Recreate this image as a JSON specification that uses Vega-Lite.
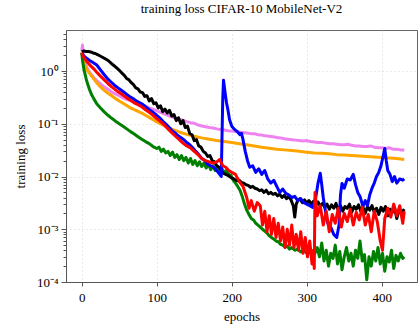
{
"$schema":"https://vega.github.io/schema/vega-lite/v6.json",
"width":351,"height":252,
"autosize":{"type":"none"},
"padding":{"left":66,"top":30,"right":1,"bottom":47},
"background":"white",
"title":{"text":"training loss CIFAR-10 MobileNet-V2","font":"Liberation Serif","fontSize":13,"fontWeight":"normal","color":"#000","offset":12,"anchor":"middle"},
"config":{"view":{"stroke":"#666","strokeWidth":1},"axis":{"labelFont":"Liberation Serif","titleFont":"Liberation Serif","labelFontSize":13,"titleFontSize":13,"titleFontWeight":"normal","labelColor":"#000","titleColor":"#000","domainColor":"#555","tickColor":"#555","gridColor":"#c8c8c8","gridDash":[1,3],"gridWidth":0.8}},
"data":{"values":[
{"series":"violet","epoch":0,"loss":2.4},{"series":"violet","epoch":1,"loss":3.1},{"series":"violet","epoch":2,"loss":2.0},{"series":"violet","epoch":4,"loss":1.5},{"series":"violet","epoch":6,"loss":1.25},{"series":"violet","epoch":8,"loss":1.08},{"series":"violet","epoch":10,"loss":0.97},{"series":"violet","epoch":12,"loss":0.88},{"series":"violet","epoch":15,"loss":0.78},{"series":"violet","epoch":18,"loss":0.7},{"series":"violet","epoch":20,"loss":0.66},{"series":"violet","epoch":25,"loss":0.57},{"series":"violet","epoch":30,"loss":0.5},{"series":"violet","epoch":35,"loss":0.45},{"series":"violet","epoch":40,"loss":0.4},{"series":"violet","epoch":45,"loss":0.37},{"series":"violet","epoch":50,"loss":0.34},{"series":"violet","epoch":55,"loss":0.31},{"series":"violet","epoch":60,"loss":0.29},{"series":"violet","epoch":65,"loss":0.275},{"series":"violet","epoch":70,"loss":0.26},{"series":"violet","epoch":75,"loss":0.245},{"series":"violet","epoch":80,"loss":0.23},{"series":"violet","epoch":85,"loss":0.215},{"series":"violet","epoch":90,"loss":0.2},{"series":"violet","epoch":95,"loss":0.19},{"series":"violet","epoch":100,"loss":0.176},{"series":"violet","epoch":105,"loss":0.165},{"series":"violet","epoch":110,"loss":0.155},{"series":"violet","epoch":115,"loss":0.145},{"series":"violet","epoch":120,"loss":0.135},{"series":"violet","epoch":125,"loss":0.128},{"series":"violet","epoch":130,"loss":0.122},{"series":"violet","epoch":135,"loss":0.116},{"series":"violet","epoch":140,"loss":0.11},{"series":"violet","epoch":145,"loss":0.105},{"series":"violet","epoch":150,"loss":0.102},{"series":"violet","epoch":155,"loss":0.095},{"series":"violet","epoch":160,"loss":0.091},{"series":"violet","epoch":165,"loss":0.088},{"series":"violet","epoch":170,"loss":0.085},{"series":"violet","epoch":175,"loss":0.083},{"series":"violet","epoch":180,"loss":0.08},{"series":"violet","epoch":185,"loss":0.078},{"series":"violet","epoch":190,"loss":0.076},{"series":"violet","epoch":195,"loss":0.074},{"series":"violet","epoch":200,"loss":0.073},{"series":"violet","epoch":205,"loss":0.071},{"series":"violet","epoch":210,"loss":0.07},{"series":"violet","epoch":215,"loss":0.068},{"series":"violet","epoch":220,"loss":0.067},{"series":"violet","epoch":225,"loss":0.065},{"series":"violet","epoch":230,"loss":0.065},{"series":"violet","epoch":235,"loss":0.062},{"series":"violet","epoch":240,"loss":0.061},{"series":"violet","epoch":245,"loss":0.059},{"series":"violet","epoch":250,"loss":0.058},{"series":"violet","epoch":255,"loss":0.057},{"series":"violet","epoch":260,"loss":0.055},{"series":"violet","epoch":265,"loss":0.054},{"series":"violet","epoch":270,"loss":0.052},{"series":"violet","epoch":275,"loss":0.051},{"series":"violet","epoch":280,"loss":0.05},{"series":"violet","epoch":285,"loss":0.049},{"series":"violet","epoch":290,"loss":0.048},{"series":"violet","epoch":295,"loss":0.047},{"series":"violet","epoch":300,"loss":0.048},{"series":"violet","epoch":305,"loss":0.046},{"series":"violet","epoch":310,"loss":0.045},{"series":"violet","epoch":315,"loss":0.044},{"series":"violet","epoch":320,"loss":0.044},{"series":"violet","epoch":325,"loss":0.043},{"series":"violet","epoch":330,"loss":0.042},{"series":"violet","epoch":335,"loss":0.042},{"series":"violet","epoch":340,"loss":0.041},{"series":"violet","epoch":345,"loss":0.04},{"series":"violet","epoch":350,"loss":0.04},{"series":"violet","epoch":355,"loss":0.041},{"series":"violet","epoch":360,"loss":0.039},{"series":"violet","epoch":365,"loss":0.038},{"series":"violet","epoch":370,"loss":0.038},{"series":"violet","epoch":375,"loss":0.037},{"series":"violet","epoch":380,"loss":0.037},{"series":"violet","epoch":385,"loss":0.038},{"series":"violet","epoch":390,"loss":0.036},{"series":"violet","epoch":395,"loss":0.035},{"series":"violet","epoch":400,"loss":0.035},{"series":"violet","epoch":405,"loss":0.034},{"series":"violet","epoch":410,"loss":0.035},{"series":"violet","epoch":415,"loss":0.033},{"series":"violet","epoch":420,"loss":0.033},{"series":"violet","epoch":425,"loss":0.032},{"series":"violet","epoch":430,"loss":0.032},
{"series":"orange","epoch":0,"loss":2.3},{"series":"orange","epoch":2,"loss":1.6},{"series":"orange","epoch":4,"loss":1.3},{"series":"orange","epoch":6,"loss":1.12},{"series":"orange","epoch":8,"loss":1.0},{"series":"orange","epoch":10,"loss":0.92},{"series":"orange","epoch":12,"loss":0.84},{"series":"orange","epoch":15,"loss":0.74},{"series":"orange","epoch":18,"loss":0.65},{"series":"orange","epoch":20,"loss":0.6},{"series":"orange","epoch":25,"loss":0.5},{"series":"orange","epoch":30,"loss":0.43},{"series":"orange","epoch":35,"loss":0.38},{"series":"orange","epoch":40,"loss":0.34},{"series":"orange","epoch":45,"loss":0.3},{"series":"orange","epoch":50,"loss":0.27},{"series":"orange","epoch":55,"loss":0.245},{"series":"orange","epoch":60,"loss":0.222},{"series":"orange","epoch":65,"loss":0.2},{"series":"orange","epoch":70,"loss":0.185},{"series":"orange","epoch":75,"loss":0.172},{"series":"orange","epoch":80,"loss":0.16},{"series":"orange","epoch":85,"loss":0.145},{"series":"orange","epoch":90,"loss":0.132},{"series":"orange","epoch":95,"loss":0.12},{"series":"orange","epoch":100,"loss":0.108},{"series":"orange","epoch":110,"loss":0.092},{"series":"orange","epoch":120,"loss":0.079},{"series":"orange","epoch":130,"loss":0.07},{"series":"orange","epoch":140,"loss":0.063},{"series":"orange","epoch":150,"loss":0.058},{"series":"orange","epoch":160,"loss":0.054},{"series":"orange","epoch":170,"loss":0.051},{"series":"orange","epoch":180,"loss":0.048},{"series":"orange","epoch":190,"loss":0.046},{"series":"orange","epoch":200,"loss":0.044},{"series":"orange","epoch":210,"loss":0.042},{"series":"orange","epoch":220,"loss":0.04},{"series":"orange","epoch":230,"loss":0.038},{"series":"orange","epoch":240,"loss":0.036},{"series":"orange","epoch":250,"loss":0.0345},{"series":"orange","epoch":260,"loss":0.033},{"series":"orange","epoch":270,"loss":0.032},{"series":"orange","epoch":280,"loss":0.031},{"series":"orange","epoch":290,"loss":0.03},{"series":"orange","epoch":300,"loss":0.029},{"series":"orange","epoch":310,"loss":0.028},{"series":"orange","epoch":320,"loss":0.0275},{"series":"orange","epoch":330,"loss":0.027},{"series":"orange","epoch":340,"loss":0.026},{"series":"orange","epoch":350,"loss":0.0255},{"series":"orange","epoch":360,"loss":0.025},{"series":"orange","epoch":370,"loss":0.0245},{"series":"orange","epoch":380,"loss":0.024},{"series":"orange","epoch":390,"loss":0.0235},{"series":"orange","epoch":400,"loss":0.023},{"series":"orange","epoch":410,"loss":0.0225},{"series":"orange","epoch":420,"loss":0.022},{"series":"orange","epoch":430,"loss":0.021},
{"series":"green","epoch":0,"loss":2.2},{"series":"green","epoch":1,"loss":1.6},{"series":"green","epoch":2,"loss":1.3},{"series":"green","epoch":3,"loss":1.05},{"series":"green","epoch":4,"loss":0.92},{"series":"green","epoch":6,"loss":0.7},{"series":"green","epoch":8,"loss":0.56},{"series":"green","epoch":10,"loss":0.46},{"series":"green","epoch":13,"loss":0.36},{"series":"green","epoch":16,"loss":0.3},{"series":"green","epoch":20,"loss":0.24},{"series":"green","epoch":25,"loss":0.2},{"series":"green","epoch":30,"loss":0.168},{"series":"green","epoch":35,"loss":0.145},{"series":"green","epoch":40,"loss":0.127},{"series":"green","epoch":45,"loss":0.112},{"series":"green","epoch":50,"loss":0.1},{"series":"green","epoch":55,"loss":0.09},{"series":"green","epoch":60,"loss":0.08},{"series":"green","epoch":65,"loss":0.071},{"series":"green","epoch":70,"loss":0.064},{"series":"green","epoch":75,"loss":0.057},{"series":"green","epoch":80,"loss":0.051},{"series":"green","epoch":85,"loss":0.046},{"series":"green","epoch":90,"loss":0.042},{"series":"green","epoch":95,"loss":0.037},{"series":"green","epoch":100,"loss":0.034},{"series":"green","epoch":103,"loss":0.036},{"series":"green","epoch":106,"loss":0.03},{"series":"green","epoch":109,"loss":0.033},{"series":"green","epoch":112,"loss":0.028},{"series":"green","epoch":115,"loss":0.03},{"series":"green","epoch":118,"loss":0.025},{"series":"green","epoch":121,"loss":0.029},{"series":"green","epoch":124,"loss":0.023},{"series":"green","epoch":127,"loss":0.026},{"series":"green","epoch":130,"loss":0.021},{"series":"green","epoch":133,"loss":0.025},{"series":"green","epoch":136,"loss":0.02},{"series":"green","epoch":139,"loss":0.023},{"series":"green","epoch":142,"loss":0.018},{"series":"green","epoch":145,"loss":0.022},{"series":"green","epoch":148,"loss":0.017},{"series":"green","epoch":151,"loss":0.02},{"series":"green","epoch":154,"loss":0.016},{"series":"green","epoch":157,"loss":0.019},{"series":"green","epoch":160,"loss":0.0155},{"series":"green","epoch":163,"loss":0.018},{"series":"green","epoch":166,"loss":0.0145},{"series":"green","epoch":169,"loss":0.017},{"series":"green","epoch":172,"loss":0.0135},{"series":"green","epoch":175,"loss":0.016},{"series":"green","epoch":178,"loss":0.013},{"series":"green","epoch":181,"loss":0.0155},{"series":"green","epoch":184,"loss":0.0125},{"series":"green","epoch":187,"loss":0.014},{"series":"green","epoch":190,"loss":0.012},{"series":"green","epoch":193,"loss":0.013},{"series":"green","epoch":196,"loss":0.011},{"series":"green","epoch":199,"loss":0.0105},{"series":"green","epoch":202,"loss":0.0085},{"series":"green","epoch":205,"loss":0.0075},{"series":"green","epoch":208,"loss":0.0065},{"series":"green","epoch":211,"loss":0.0055},{"series":"green","epoch":214,"loss":0.0042},{"series":"green","epoch":217,"loss":0.003},{"series":"green","epoch":220,"loss":0.0023},{"series":"green","epoch":223,"loss":0.0019},{"series":"green","epoch":226,"loss":0.0016},{"series":"green","epoch":229,"loss":0.0015},{"series":"green","epoch":232,"loss":0.0013},{"series":"green","epoch":235,"loss":0.0012},{"series":"green","epoch":238,"loss":0.0011},{"series":"green","epoch":241,"loss":0.001},{"series":"green","epoch":244,"loss":0.00092},{"series":"green","epoch":247,"loss":0.00085},{"series":"green","epoch":250,"loss":0.00075},{"series":"green","epoch":253,"loss":0.0007},{"series":"green","epoch":256,"loss":0.00065},{"series":"green","epoch":259,"loss":0.0006},{"series":"green","epoch":262,"loss":0.00058},{"series":"green","epoch":265,"loss":0.00052},{"series":"green","epoch":268,"loss":0.0005},{"series":"green","epoch":271,"loss":0.00046},{"series":"green","epoch":274,"loss":0.00048},{"series":"green","epoch":277,"loss":0.00042},{"series":"green","epoch":280,"loss":0.00045},{"series":"green","epoch":284,"loss":0.0004},{"series":"green","epoch":288,"loss":0.00042},{"series":"green","epoch":292,"loss":0.00037},{"series":"green","epoch":296,"loss":0.0004},{"series":"green","epoch":300,"loss":0.00035},{"series":"green","epoch":304,"loss":0.00038},{"series":"green","epoch":308,"loss":0.00033},{"series":"green","epoch":311,"loss":0.00035},{"series":"green","epoch":314,"loss":0.00045},{"series":"green","epoch":317,"loss":0.0003},{"series":"green","epoch":320,"loss":0.00055},{"series":"green","epoch":323,"loss":0.00025},{"series":"green","epoch":326,"loss":0.0004},{"series":"green","epoch":329,"loss":0.0002},{"series":"green","epoch":332,"loss":0.00035},{"series":"green","epoch":335,"loss":0.00028},{"series":"green","epoch":338,"loss":0.0005},{"series":"green","epoch":341,"loss":0.00022},{"series":"green","epoch":344,"loss":0.00038},{"series":"green","epoch":347,"loss":0.00017},{"series":"green","epoch":350,"loss":0.0003},{"series":"green","epoch":353,"loss":0.00045},{"series":"green","epoch":356,"loss":0.00025},{"series":"green","epoch":359,"loss":0.00035},{"series":"green","epoch":362,"loss":0.0002},{"series":"green","epoch":365,"loss":0.0004},{"series":"green","epoch":368,"loss":0.00028},{"series":"green","epoch":371,"loss":0.0006},{"series":"green","epoch":374,"loss":0.00025},{"series":"green","epoch":377,"loss":0.00033},{"series":"green","epoch":380,"loss":0.00011},{"series":"green","epoch":383,"loss":0.0003},{"series":"green","epoch":386,"loss":0.0002},{"series":"green","epoch":389,"loss":0.00038},{"series":"green","epoch":392,"loss":0.00025},{"series":"green","epoch":395,"loss":0.00045},{"series":"green","epoch":398,"loss":0.00022},{"series":"green","epoch":401,"loss":0.00035},{"series":"green","epoch":404,"loss":0.00016},{"series":"green","epoch":407,"loss":0.0003},{"series":"green","epoch":410,"loss":0.00024},{"series":"green","epoch":413,"loss":0.0004},{"series":"green","epoch":416,"loss":0.00018},{"series":"green","epoch":419,"loss":0.00032},{"series":"green","epoch":422,"loss":0.00025},{"series":"green","epoch":425,"loss":0.00035},{"series":"green","epoch":428,"loss":0.00028},{"series":"green","epoch":430,"loss":0.0003},
{"series":"black","epoch":0,"loss":2.3},{"series":"black","epoch":3,"loss":2.4},{"series":"black","epoch":6,"loss":2.35},{"series":"black","epoch":9,"loss":2.35},{"series":"black","epoch":12,"loss":2.3},{"series":"black","epoch":15,"loss":2.2},{"series":"black","epoch":18,"loss":2.15},{"series":"black","epoch":21,"loss":2.05},{"series":"black","epoch":24,"loss":1.95},{"series":"black","epoch":27,"loss":1.85},{"series":"black","epoch":30,"loss":1.75},{"series":"black","epoch":33,"loss":1.65},{"series":"black","epoch":36,"loss":1.55},{"series":"black","epoch":39,"loss":1.42},{"series":"black","epoch":42,"loss":1.3},{"series":"black","epoch":45,"loss":1.2},{"series":"black","epoch":48,"loss":1.1},{"series":"black","epoch":51,"loss":1.0},{"series":"black","epoch":54,"loss":0.9},{"series":"black","epoch":57,"loss":0.82},{"series":"black","epoch":60,"loss":0.72},{"series":"black","epoch":63,"loss":0.68},{"series":"black","epoch":66,"loss":0.6},{"series":"black","epoch":69,"loss":0.55},{"series":"black","epoch":72,"loss":0.48},{"series":"black","epoch":75,"loss":0.46},{"series":"black","epoch":78,"loss":0.4},{"series":"black","epoch":81,"loss":0.39},{"series":"black","epoch":84,"loss":0.33},{"series":"black","epoch":87,"loss":0.34},{"series":"black","epoch":90,"loss":0.27},{"series":"black","epoch":93,"loss":0.3},{"series":"black","epoch":96,"loss":0.24},{"series":"black","epoch":99,"loss":0.25},{"series":"black","epoch":102,"loss":0.2},{"series":"black","epoch":105,"loss":0.22},{"series":"black","epoch":108,"loss":0.17},{"series":"black","epoch":111,"loss":0.19},{"series":"black","epoch":114,"loss":0.16},{"series":"black","epoch":117,"loss":0.18},{"series":"black","epoch":120,"loss":0.14},{"series":"black","epoch":123,"loss":0.15},{"series":"black","epoch":126,"loss":0.115},{"series":"black","epoch":129,"loss":0.13},{"series":"black","epoch":132,"loss":0.1},{"series":"black","epoch":135,"loss":0.115},{"series":"black","epoch":138,"loss":0.085},{"series":"black","epoch":141,"loss":0.09},{"series":"black","epoch":144,"loss":0.065},{"series":"black","epoch":147,"loss":0.062},{"series":"black","epoch":150,"loss":0.048},{"series":"black","epoch":153,"loss":0.05},{"series":"black","epoch":156,"loss":0.038},{"series":"black","epoch":159,"loss":0.036},{"series":"black","epoch":162,"loss":0.03},{"series":"black","epoch":165,"loss":0.028},{"series":"black","epoch":168,"loss":0.024},{"series":"black","epoch":171,"loss":0.025},{"series":"black","epoch":174,"loss":0.02},{"series":"black","epoch":177,"loss":0.019},{"series":"black","epoch":180,"loss":0.016},{"series":"black","epoch":183,"loss":0.015},{"series":"black","epoch":186,"loss":0.013},{"series":"black","epoch":189,"loss":0.0115},{"series":"black","epoch":192,"loss":0.011},{"series":"black","epoch":195,"loss":0.0105},{"series":"black","epoch":198,"loss":0.0098},{"series":"black","epoch":201,"loss":0.0092},{"series":"black","epoch":204,"loss":0.0088},{"series":"black","epoch":207,"loss":0.0083},{"series":"black","epoch":210,"loss":0.0085},{"series":"black","epoch":213,"loss":0.0077},{"series":"black","epoch":216,"loss":0.0075},{"series":"black","epoch":219,"loss":0.007},{"series":"black","epoch":222,"loss":0.0068},{"series":"black","epoch":225,"loss":0.0062},{"series":"black","epoch":228,"loss":0.0065},{"series":"black","epoch":231,"loss":0.006},{"series":"black","epoch":234,"loss":0.0058},{"series":"black","epoch":237,"loss":0.0054},{"series":"black","epoch":240,"loss":0.0056},{"series":"black","epoch":243,"loss":0.005},{"series":"black","epoch":246,"loss":0.0055},{"series":"black","epoch":249,"loss":0.0047},{"series":"black","epoch":252,"loss":0.005},{"series":"black","epoch":255,"loss":0.0046},{"series":"black","epoch":258,"loss":0.0048},{"series":"black","epoch":261,"loss":0.0043},{"series":"black","epoch":264,"loss":0.0046},{"series":"black","epoch":267,"loss":0.004},{"series":"black","epoch":270,"loss":0.0044},{"series":"black","epoch":273,"loss":0.0038},{"series":"black","epoch":276,"loss":0.0042},{"series":"black","epoch":279,"loss":0.0036},{"series":"black","epoch":282,"loss":0.0028},{"series":"black","epoch":284,"loss":0.0017},{"series":"black","epoch":286,"loss":0.003},{"series":"black","epoch":288,"loss":0.0035},{"series":"black","epoch":291,"loss":0.0038},{"series":"black","epoch":294,"loss":0.0032},{"series":"black","epoch":297,"loss":0.0036},{"series":"black","epoch":300,"loss":0.0031},{"series":"black","epoch":303,"loss":0.0035},{"series":"black","epoch":306,"loss":0.003},{"series":"black","epoch":309,"loss":0.0034},{"series":"black","epoch":312,"loss":0.0029},{"series":"black","epoch":315,"loss":0.0033},{"series":"black","epoch":318,"loss":0.0027},{"series":"black","epoch":321,"loss":0.0031},{"series":"black","epoch":324,"loss":0.0026},{"series":"black","epoch":327,"loss":0.003},{"series":"black","epoch":330,"loss":0.0024},{"series":"black","epoch":333,"loss":0.0029},{"series":"black","epoch":336,"loss":0.0025},{"series":"black","epoch":339,"loss":0.0031},{"series":"black","epoch":342,"loss":0.0023},{"series":"black","epoch":345,"loss":0.0028},{"series":"black","epoch":348,"loss":0.0022},{"series":"black","epoch":351,"loss":0.0027},{"series":"black","epoch":354,"loss":0.0025},{"series":"black","epoch":357,"loss":0.003},{"series":"black","epoch":360,"loss":0.0021},{"series":"black","epoch":363,"loss":0.0027},{"series":"black","epoch":366,"loss":0.0024},{"series":"black","epoch":369,"loss":0.0029},{"series":"black","epoch":372,"loss":0.0022},{"series":"black","epoch":375,"loss":0.0026},{"series":"black","epoch":378,"loss":0.002},{"series":"black","epoch":381,"loss":0.0027},{"series":"black","epoch":384,"loss":0.0023},{"series":"black","epoch":387,"loss":0.0028},{"series":"black","epoch":390,"loss":0.0021},{"series":"black","epoch":393,"loss":0.0025},{"series":"black","epoch":396,"loss":0.0019},{"series":"black","epoch":399,"loss":0.0026},{"series":"black","epoch":402,"loss":0.0022},{"series":"black","epoch":405,"loss":0.0027},{"series":"black","epoch":408,"loss":0.0018},{"series":"black","epoch":411,"loss":0.0024},{"series":"black","epoch":414,"loss":0.0021},{"series":"black","epoch":417,"loss":0.0026},{"series":"black","epoch":420,"loss":0.0016},{"series":"black","epoch":423,"loss":0.0023},{"series":"black","epoch":426,"loss":0.002},{"series":"black","epoch":430,"loss":0.0024},
{"series":"blue","epoch":0,"loss":2.2},{"series":"blue","epoch":2,"loss":2.0},{"series":"blue","epoch":5,"loss":1.8},{"series":"blue","epoch":10,"loss":1.6},{"series":"blue","epoch":15,"loss":1.45},{"series":"blue","epoch":20,"loss":1.3},{"series":"blue","epoch":25,"loss":1.05},{"series":"blue","epoch":30,"loss":0.85},{"series":"blue","epoch":35,"loss":0.7},{"series":"blue","epoch":40,"loss":0.6},{"series":"blue","epoch":45,"loss":0.52},{"series":"blue","epoch":50,"loss":0.46},{"series":"blue","epoch":55,"loss":0.41},{"series":"blue","epoch":60,"loss":0.36},{"series":"blue","epoch":65,"loss":0.32},{"series":"blue","epoch":70,"loss":0.29},{"series":"blue","epoch":75,"loss":0.26},{"series":"blue","epoch":80,"loss":0.24},{"series":"blue","epoch":85,"loss":0.21},{"series":"blue","epoch":90,"loss":0.185},{"series":"blue","epoch":95,"loss":0.165},{"series":"blue","epoch":100,"loss":0.145},{"series":"blue","epoch":105,"loss":0.125},{"series":"blue","epoch":110,"loss":0.105},{"series":"blue","epoch":115,"loss":0.09},{"series":"blue","epoch":120,"loss":0.075},{"series":"blue","epoch":124,"loss":0.068},{"series":"blue","epoch":128,"loss":0.06},{"series":"blue","epoch":132,"loss":0.055},{"series":"blue","epoch":136,"loss":0.05},{"series":"blue","epoch":140,"loss":0.044},{"series":"blue","epoch":144,"loss":0.04},{"series":"blue","epoch":148,"loss":0.035},{"series":"blue","epoch":152,"loss":0.03},{"series":"blue","epoch":156,"loss":0.026},{"series":"blue","epoch":160,"loss":0.022},{"series":"blue","epoch":164,"loss":0.02},{"series":"blue","epoch":168,"loss":0.017},{"series":"blue","epoch":172,"loss":0.016},{"series":"blue","epoch":176,"loss":0.015},{"series":"blue","epoch":180,"loss":0.013},{"series":"blue","epoch":184,"loss":0.011},{"series":"blue","epoch":186,"loss":0.01},{"series":"blue","epoch":188,"loss":0.3},{"series":"blue","epoch":189,"loss":0.67},{"series":"blue","epoch":191,"loss":0.4},{"series":"blue","epoch":193,"loss":0.25},{"series":"blue","epoch":195,"loss":0.18},{"series":"blue","epoch":197,"loss":0.12},{"series":"blue","epoch":200,"loss":0.09},{"series":"blue","epoch":203,"loss":0.08},{"series":"blue","epoch":207,"loss":0.072},{"series":"blue","epoch":211,"loss":0.062},{"series":"blue","epoch":213,"loss":0.066},{"series":"blue","epoch":215,"loss":0.05},{"series":"blue","epoch":218,"loss":0.03},{"series":"blue","epoch":221,"loss":0.02},{"series":"blue","epoch":224,"loss":0.015},{"series":"blue","epoch":228,"loss":0.016},{"series":"blue","epoch":232,"loss":0.012},{"series":"blue","epoch":236,"loss":0.014},{"series":"blue","epoch":240,"loss":0.011},{"series":"blue","epoch":244,"loss":0.013},{"series":"blue","epoch":248,"loss":0.009},{"series":"blue","epoch":252,"loss":0.0075},{"series":"blue","epoch":256,"loss":0.0085},{"series":"blue","epoch":260,"loss":0.0065},{"series":"blue","epoch":264,"loss":0.005},{"series":"blue","epoch":268,"loss":0.0058},{"series":"blue","epoch":272,"loss":0.0048},{"series":"blue","epoch":276,"loss":0.0045},{"series":"blue","epoch":280,"loss":0.004},{"series":"blue","epoch":284,"loss":0.0042},{"series":"blue","epoch":288,"loss":0.0035},{"series":"blue","epoch":292,"loss":0.0038},{"series":"blue","epoch":296,"loss":0.0032},{"series":"blue","epoch":300,"loss":0.003},{"series":"blue","epoch":304,"loss":0.0028},{"series":"blue","epoch":308,"loss":0.0026},{"series":"blue","epoch":312,"loss":0.004},{"series":"blue","epoch":315,"loss":0.0075},{"series":"blue","epoch":318,"loss":0.0115},{"series":"blue","epoch":320,"loss":0.007},{"series":"blue","epoch":322,"loss":0.004},{"series":"blue","epoch":325,"loss":0.0022},{"series":"blue","epoch":328,"loss":0.0013},{"series":"blue","epoch":332,"loss":0.0011},{"series":"blue","epoch":336,"loss":0.0008},{"series":"blue","epoch":340,"loss":0.0007},{"series":"blue","epoch":343,"loss":0.0012},{"series":"blue","epoch":345,"loss":0.0045},{"series":"blue","epoch":347,"loss":0.0074},{"series":"blue","epoch":350,"loss":0.006},{"series":"blue","epoch":354,"loss":0.009},{"series":"blue","epoch":358,"loss":0.0086},{"series":"blue","epoch":362,"loss":0.011},{"series":"blue","epoch":365,"loss":0.007},{"series":"blue","epoch":368,"loss":0.005},{"series":"blue","epoch":371,"loss":0.0042},{"series":"blue","epoch":375,"loss":0.0027},{"series":"blue","epoch":378,"loss":0.0035},{"series":"blue","epoch":381,"loss":0.0028},{"series":"blue","epoch":384,"loss":0.0045},{"series":"blue","epoch":387,"loss":0.006},{"series":"blue","epoch":390,"loss":0.0075},{"series":"blue","epoch":393,"loss":0.01},{"series":"blue","epoch":396,"loss":0.012},{"series":"blue","epoch":399,"loss":0.016},{"series":"blue","epoch":402,"loss":0.025},{"series":"blue","epoch":404,"loss":0.034},{"series":"blue","epoch":406,"loss":0.02},{"series":"blue","epoch":408,"loss":0.013},{"series":"blue","epoch":411,"loss":0.011},{"series":"blue","epoch":414,"loss":0.008},{"series":"blue","epoch":417,"loss":0.01},{"series":"blue","epoch":420,"loss":0.0075},{"series":"blue","epoch":424,"loss":0.009},{"series":"blue","epoch":428,"loss":0.0085},{"series":"blue","epoch":430,"loss":0.009},
{"series":"red","epoch":0,"loss":2.2},{"series":"red","epoch":2,"loss":1.9},{"series":"red","epoch":4,"loss":1.7},{"series":"red","epoch":8,"loss":1.45},{"series":"red","epoch":12,"loss":1.25},{"series":"red","epoch":16,"loss":1.1},{"series":"red","epoch":20,"loss":0.95},{"series":"red","epoch":25,"loss":0.8},{"series":"red","epoch":30,"loss":0.68},{"series":"red","epoch":35,"loss":0.58},{"series":"red","epoch":40,"loss":0.5},{"series":"red","epoch":45,"loss":0.44},{"series":"red","epoch":50,"loss":0.39},{"series":"red","epoch":55,"loss":0.35},{"series":"red","epoch":60,"loss":0.31},{"series":"red","epoch":65,"loss":0.28},{"series":"red","epoch":70,"loss":0.25},{"series":"red","epoch":75,"loss":0.23},{"series":"red","epoch":80,"loss":0.21},{"series":"red","epoch":85,"loss":0.185},{"series":"red","epoch":90,"loss":0.165},{"series":"red","epoch":95,"loss":0.145},{"series":"red","epoch":100,"loss":0.125},{"series":"red","epoch":105,"loss":0.11},{"series":"red","epoch":110,"loss":0.095},{"series":"red","epoch":115,"loss":0.08},{"series":"red","epoch":120,"loss":0.068},{"series":"red","epoch":125,"loss":0.058},{"series":"red","epoch":130,"loss":0.05},{"series":"red","epoch":135,"loss":0.043},{"series":"red","epoch":140,"loss":0.038},{"series":"red","epoch":145,"loss":0.035},{"series":"red","epoch":150,"loss":0.03},{"series":"red","epoch":155,"loss":0.026},{"series":"red","epoch":160,"loss":0.022},{"series":"red","epoch":165,"loss":0.02},{"series":"red","epoch":170,"loss":0.019},{"series":"red","epoch":175,"loss":0.018},{"series":"red","epoch":180,"loss":0.019},{"series":"red","epoch":184,"loss":0.021},{"series":"red","epoch":188,"loss":0.016},{"series":"red","epoch":192,"loss":0.015},{"series":"red","epoch":196,"loss":0.013},{"series":"red","epoch":200,"loss":0.012},{"series":"red","epoch":205,"loss":0.011},{"series":"red","epoch":210,"loss":0.008},{"series":"red","epoch":215,"loss":0.0065},{"series":"red","epoch":220,"loss":0.004},{"series":"red","epoch":223,"loss":0.0025},{"series":"red","epoch":226,"loss":0.0035},{"series":"red","epoch":230,"loss":0.0022},{"series":"red","epoch":234,"loss":0.0032},{"series":"red","epoch":238,"loss":0.0028},{"series":"red","epoch":241,"loss":0.0012},{"series":"red","epoch":244,"loss":0.0022},{"series":"red","epoch":247,"loss":0.0009},{"series":"red","epoch":250,"loss":0.0018},{"series":"red","epoch":253,"loss":0.0008},{"series":"red","epoch":256,"loss":0.0016},{"series":"red","epoch":259,"loss":0.0007},{"series":"red","epoch":262,"loss":0.0013},{"series":"red","epoch":265,"loss":0.0006},{"series":"red","epoch":268,"loss":0.0011},{"series":"red","epoch":271,"loss":0.00045},{"series":"red","epoch":274,"loss":0.001},{"series":"red","epoch":277,"loss":0.0005},{"series":"red","epoch":280,"loss":0.0012},{"series":"red","epoch":283,"loss":0.00045},{"series":"red","epoch":286,"loss":0.0008},{"series":"red","epoch":289,"loss":0.0004},{"series":"red","epoch":292,"loss":0.0009},{"series":"red","epoch":295,"loss":0.00035},{"series":"red","epoch":298,"loss":0.0007},{"series":"red","epoch":301,"loss":0.0003},{"series":"red","epoch":304,"loss":0.0006},{"series":"red","epoch":307,"loss":0.00022},{"series":"red","epoch":309,"loss":0.0004},{"series":"red","epoch":310,"loss":0.00018},{"series":"red","epoch":311,"loss":0.005},{"series":"red","epoch":314,"loss":0.0018},{"series":"red","epoch":318,"loss":0.0028},{"series":"red","epoch":322,"loss":0.0012},{"series":"red","epoch":326,"loss":0.0022},{"series":"red","epoch":330,"loss":0.0009},{"series":"red","epoch":334,"loss":0.0019},{"series":"red","epoch":338,"loss":0.0013},{"series":"red","epoch":342,"loss":0.0025},{"series":"red","epoch":346,"loss":0.0011},{"series":"red","epoch":350,"loss":0.002},{"series":"red","epoch":354,"loss":0.0014},{"series":"red","epoch":358,"loss":0.0024},{"series":"red","epoch":362,"loss":0.0012},{"series":"red","epoch":366,"loss":0.0021},{"series":"red","epoch":370,"loss":0.0015},{"series":"red","epoch":374,"loss":0.0026},{"series":"red","epoch":378,"loss":0.0012},{"series":"red","epoch":382,"loss":0.0019},{"series":"red","epoch":386,"loss":0.0009},{"series":"red","epoch":390,"loss":0.0022},{"series":"red","epoch":394,"loss":0.0014},{"series":"red","epoch":398,"loss":0.0006},{"series":"red","epoch":401,"loss":0.0004},{"series":"red","epoch":404,"loss":0.0016},{"series":"red","epoch":408,"loss":0.0025},{"series":"red","epoch":412,"loss":0.0017},{"series":"red","epoch":416,"loss":0.003},{"series":"red","epoch":420,"loss":0.0018},{"series":"red","epoch":424,"loss":0.0028},{"series":"red","epoch":428,"loss":0.0013},{"series":"red","epoch":430,"loss":0.0022}
]},
"mark":{"type":"line","strokeWidth":3,"strokeJoin":"round","clip":true},
"encoding":{
"x":{"field":"epoch","type":"quantitative","scale":{"domain":[-21,447],"nice":false,"zero":false},"axis":{"title":"epochs","values":[0,100,200,300,400],"tickSize":4,"labelPadding":5,"titlePadding":6,"grid":true}},
"y":{"field":"loss","type":"quantitative","scale":{"type":"log","domain":[0.0001,6],"nice":false},"axis":{"title":"training loss","values":[0.0001,0.0002,0.0003,0.0004,0.0005,0.0006,0.0007,0.0008,0.0009,0.001,0.002,0.003,0.004,0.005,0.006,0.007,0.008,0.009,0.01,0.02,0.03,0.04,0.05,0.06,0.07,0.08,0.09,0.1,0.2,0.3,0.4,0.5,0.6,0.7,0.8,0.9,1,2,3,4,5],
"labelExpr":"datum.value == 1 ? '10⁰' : datum.value == 0.1 ? '10⁻¹' : datum.value == 0.01 ? '10⁻²' : datum.value == 0.001 ? '10⁻³' : datum.value == 0.0001 ? '10⁻⁴' : ''",
"gridOpacity":{"condition":{"test":"abs(log(datum.value)/LN10 - round(log(datum.value)/LN10)) < 0.001","value":1},"value":0},
"tickSize":{"condition":{"test":"abs(log(datum.value)/LN10 - round(log(datum.value)/LN10)) < 0.001","value":5},"value":3},
"labelPadding":3,"titlePadding":9,"labelFlush":false,"labelOverlap":false}},
"color":{"field":"series","type":"nominal","scale":{"domain":["violet","orange","green","black","blue","red"],"range":["#ee82ee","#ffa500","#008000","#000000","#0000ff","#ff0000"]},"legend":null}
}
}
